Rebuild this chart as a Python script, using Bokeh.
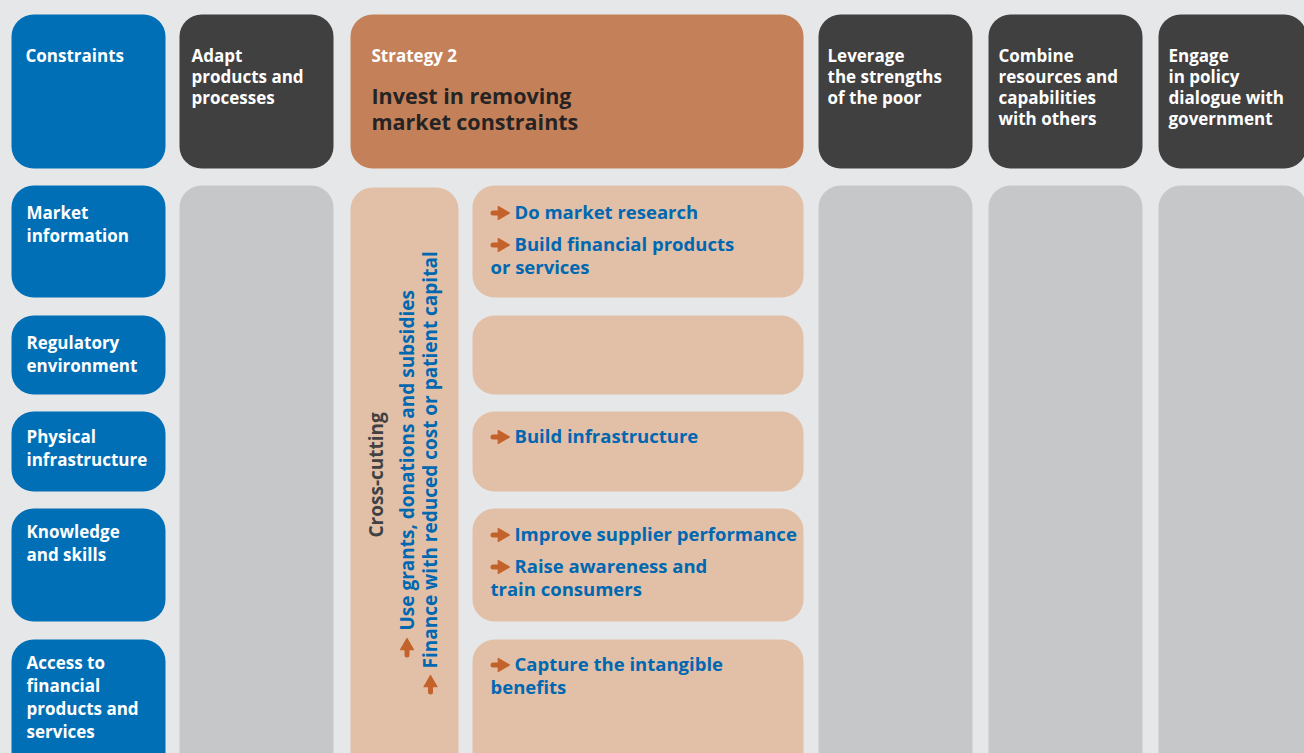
import math
from bokeh.plotting import figure
from bokeh.models import Range1d, ColumnDataSource
from bokeh.core.properties import value
from bokeh.embed import file_html
from bokeh.resources import INLINE

# ---------------- content ----------------
corner_label = "Constraints"
constraints = [
    "Market\ninformation",
    "Regulatory\nenvironment",
    "Physical\ninfrastructure",
    "Knowledge\nand skills",
    "Access to\nfinancial\nproducts and\nservices",
]
strategies = [
    "Adapt\nproducts and\nprocesses",
    "Strategy 2",
    "Leverage\nthe strengths\nof the poor",
    "Combine\nresources and\ncapabilities\nwith others",
    "Engage\nin policy\ndialogue with\ngovernment",
]
strategy2_title = "Invest in removing\nmarket constraints"
actions = [
    ["Do market research", "Build financial products\nor services"],
    [],
    ["Build infrastructure"],
    ["Improve supplier performance", "Raise awareness and\ntrain consumers"],
    ["Capture the intangible\nbenefits"],
]
cross_title = "Cross-cutting"
cross_items = [
    "Use grants, donations and subsidies",
    "Finance with reduced cost or patient capital",
]

# ---------------- layout & style ----------------
W, H = 1304, 753
BG = "#e6e7e8"
BLUE = "#006fb6"
DARK = "#404040"
ORANGE = "#c48159"
PEACH = "#e1c0a7"
GREY = "#c6c7c9"
TXT_BLUE = "#0067b1"
ARROW_COL = "#c4622b"
INK = "#262324"
FONT = value("Open Sans")
SHIFT = 0.41  # em offset between requested baseline and rendered position

COL_L = [11, 179, 350, 818, 988, 1158]
COL_R = [165, 333, 803, 972, 1142, 1306]
COL_TX = [25, 191, 371, 827, 998, 1168]
HEAD_T, HEAD_B = 14, 168
BODY_T, BODY_B = 185, 800
ROW_T = [185, 315, 411, 508, 639]
ROW_B = [297, 394, 491, 621, 800]
ROW_BASE = [219, 349, 443, 538, 669]
ACT_BASE = [219, 0, 443, 541, 671]
ACT_L, ACT_R = 472, 803
CROSS_L, CROSS_R, CROSS_T = 350, 458, 187
RADIUS = 22

p = figure(width=W, height=H, output_backend="svg", toolbar_location=None,
           x_range=Range1d(0, W), y_range=Range1d(H, 0),
           min_border=0, background_fill_color=BG, border_fill_color=BG)
p.axis.visible = False
p.grid.visible = False
p.outline_line_color = None


def boxes(lefts, rights, tops, bottoms, color):
    src = ColumnDataSource(dict(left=lefts, right=rights, top=tops, bottom=bottoms))
    p.quad(left="left", right="right", top="top", bottom="bottom", source=src,
           fill_color=color, line_color=None, border_radius=RADIUS)


# header row
boxes([COL_L[0]], [COL_R[0]], [HEAD_T], [HEAD_B], BLUE)
dark_cols = [1, 3, 4, 5]
boxes([COL_L[i] for i in dark_cols], [COL_R[i] for i in dark_cols],
      [HEAD_T] * 4, [HEAD_B] * 4, DARK)
boxes([COL_L[2]], [COL_R[2]], [HEAD_T], [HEAD_B], ORANGE)

# body
boxes([COL_L[0]] * len(constraints), [COL_R[0]] * len(constraints), ROW_T, ROW_B, BLUE)
boxes([COL_L[i] for i in dark_cols], [COL_R[i] for i in dark_cols],
      [BODY_T] * 4, [BODY_B] * 4, GREY)
boxes([CROSS_L], [CROSS_R], [CROSS_T], [BODY_B], PEACH)
boxes([ACT_L] * len(actions), [ACT_R] * len(actions), ROW_T, ROW_B, PEACH)


def text_lines(xs, ys, texts, color, size, angle=0.0):
    """xs/ys are baseline positions; compensate the rendered offset."""
    if angle == 0.0:
        ys = [y - SHIFT * size for y in ys]
    else:
        xs = [x - SHIFT * size for x in xs]
    src = ColumnDataSource(dict(x=xs, y=ys, t=texts))
    p.text(x="x", y="y", text="t", source=src, text_font=FONT, text_font_style="bold",
           text_font_size=f"{size}px", text_color=color, text_align="left",
           text_baseline="alphabetic", angle=angle)


def arrows(tips_x, tips_y, direction):
    """Heavy arrows: shaft + triangular head, tip at given point."""
    dx, dy = direction
    L, HEAD = 19, 13
    h = HEAD * math.sqrt(3) / 2
    sx0 = [x - dx * (L - 2.5) for x in tips_x]
    sy0 = [y - dy * (L - 2.5) for y in tips_y]
    sx1 = [x - dx * (h - 1) for x in tips_x]
    sy1 = [y - dy * (h - 1) for y in tips_y]
    p.segment(x0=sx0, y0=sy0, x1=sx1, y1=sy1, line_color=ARROW_COL,
              line_width=5, line_cap="round")
    cx = [x - dx * (2 * h / 3) for x in tips_x]
    cy = [y - dy * (2 * h / 3) for y in tips_y]
    ang = -math.pi / 2 if dx > 0 else 0.0
    p.scatter(x=cx, y=cy, marker="triangle", size=HEAD, angle=ang,
              fill_color=ARROW_COL, line_color=ARROW_COL, line_width=1.2,
              line_join="round")


# header texts
hx, hy, ht = [], [], []
for line_i, line in enumerate(corner_label.split("\n")):
    hx.append(COL_TX[0]); hy.append(62 + 21 * line_i); ht.append(line)
for ci, label in zip([1, 2, 3, 4, 5], strategies):
    for line_i, line in enumerate(label.split("\n")):
        hx.append(COL_TX[ci]); hy.append(62 + 21 * line_i); ht.append(line)
text_lines(hx, hy, ht, "white", 17)

tx, ty, tt = [], [], []
for line_i, line in enumerate(strategy2_title.split("\n")):
    tx.append(COL_TX[2]); ty.append(104 + 26 * line_i); tt.append(line)
text_lines(tx, ty, tt, INK, 21.5)

# constraint labels
lx, ly, lt = [], [], []
for ri, label in enumerate(constraints):
    for line_i, line in enumerate(label.split("\n")):
        lx.append(26); ly.append(ROW_BASE[ri] + 23 * line_i); lt.append(line)
text_lines(lx, ly, lt, "white", 17)

# action texts
ax, ay, at = [], [], []
arx, ary = [], []
for ri, items in enumerate(actions):
    y = ACT_BASE[ri]
    for item in items:
        lines = item.split("\n")
        arx.append(509); ary.append(y - 6.5)
        for line_i, line in enumerate(lines):
            ax.append(514 if line_i == 0 else 490)
            ay.append(y); at.append(line)
            y += 23
        y += 9
text_lines(ax, ay, at, TXT_BLUE, 18.5)
arrows(arx, ary, (1, 0))

# cross-cutting vertical texts
text_lines([383], [537], [cross_title], "#414042", 19, angle=math.pi / 2)
text_lines([414, 437], [630, 668], cross_items, TXT_BLUE, 19, angle=math.pi / 2)
arrows([406.5, 430], [638, 675], (0, -1))

html = file_html(p, INLINE)
html = html.replace("<head>", "<head><style>html,body{margin:0;padding:0;overflow:hidden;background:#e6e7e8}</style>", 1)
open("out.html", "w").write(html)
